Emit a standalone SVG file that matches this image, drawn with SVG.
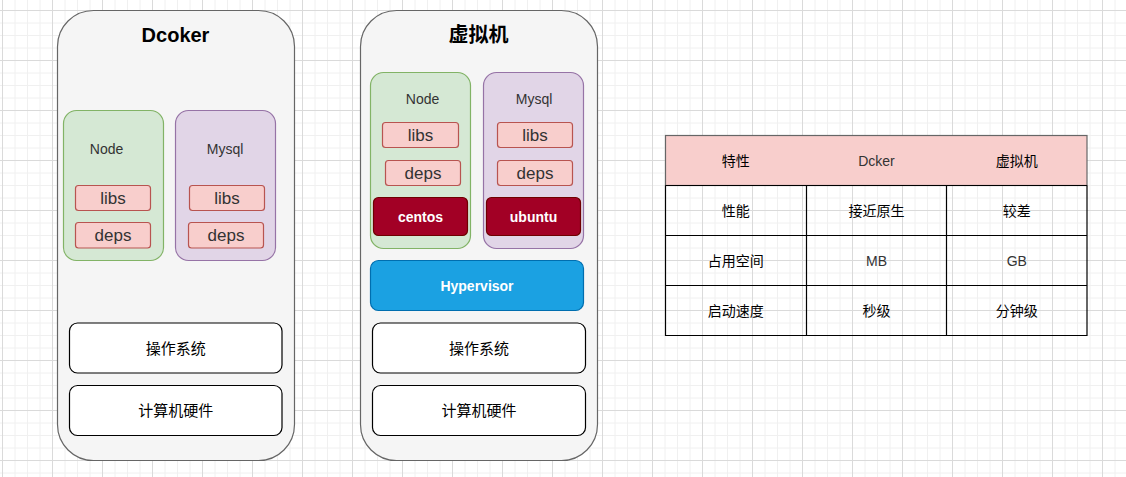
<svg xmlns="http://www.w3.org/2000/svg" width="1126" height="477" viewBox="0 0 1126 477">
<defs>
<pattern id="grid" patternUnits="userSpaceOnUse" x="2" y="10" width="50" height="50">
<path d="M13 0V50M25.5 0V50M38 0V50M0 13H50M0 25.5H50M0 38H50" stroke="#f0f0f0" stroke-width="1" fill="none"/>
<path d="M0.5 0V50M0 0.5H50" stroke="#dadada" stroke-width="1" fill="none"/>
</pattern>
<style>
.cont{fill:#f5f5f5;stroke:#666666;stroke-width:1.2}
.green{fill:#d5e8d4;stroke:#82b366;stroke-width:1.2}
.purple{fill:#e1d5e7;stroke:#9673a6;stroke-width:1.2}
.red{fill:#f8cecc;stroke:#b85450;stroke-width:1.2}
.dark{fill:#a20025;stroke:#6f0000;stroke-width:1.2}
.blue{fill:#1ba1e2;stroke:#006eaf;stroke-width:1.2}
.white{fill:#ffffff;stroke:#000000;stroke-width:1.2}
text{font-family:"Liberation Sans","Noto Sans CJK SC",sans-serif;text-anchor:middle;dominant-baseline:central}
.title{font-size:20px;font-weight:bold;fill:#000}
.lbl{font-size:14px;fill:#333}
.big{font-size:17px;fill:#333}
.wb{font-size:14px;font-weight:bold;fill:#fff}
.cjk{font-size:15px;fill:#000}
.tc{font-size:14px;fill:#000}
.tl{font-size:14px;fill:#333}
</style>
</defs>
<rect x="0" y="0" width="1126" height="477" fill="#ffffff"/>
<rect x="0" y="0" width="1126" height="477" fill="url(#grid)"/>

<g id="docker">
<rect class="cont" x="57.5" y="10.5" width="237" height="450" rx="36" ry="36"/>
<text class="title" x="175.5" y="35">Dcoker</text>
</g>
<g id="docker-node">
<rect class="green" x="63.5" y="110.5" width="100" height="150" rx="13" ry="13"/>
<text class="lbl" x="106.5" y="148.5">Node</text>
</g>
<g id="docker-node-libs">
<rect class="red" x="75.5" y="185.5" width="75" height="25" rx="3" ry="3"/>
<text class="big" x="113" y="198">libs</text>
</g>
<g id="docker-node-deps">
<rect class="red" x="75.5" y="222.5" width="75" height="25.5" rx="3" ry="3"/>
<text class="big" x="113" y="235.5">deps</text>
</g>
<g id="docker-mysql">
<rect class="purple" x="175.5" y="110.5" width="100" height="150" rx="13" ry="13"/>
<text class="lbl" x="225" y="148.5">Mysql</text>
</g>
<g id="docker-mysql-libs">
<rect class="red" x="189.5" y="185.5" width="75" height="25" rx="3" ry="3"/>
<text class="big" x="227" y="198">libs</text>
</g>
<g id="docker-mysql-deps">
<rect class="red" x="188.5" y="222.5" width="75" height="25.5" rx="3" ry="3"/>
<text class="big" x="226" y="235.5">deps</text>
</g>
<g id="docker-os">
<rect class="white" x="69.5" y="323" width="212.5" height="50" rx="8" ry="8"/>
<text class="cjk" x="175.8" y="348">操作系统</text>
</g>
<g id="docker-hw">
<rect class="white" x="69.5" y="385.5" width="212.5" height="50" rx="8" ry="8"/>
<text class="cjk" x="175.8" y="410.5">计算机硬件</text>
</g>

<g id="vm">
<rect class="cont" x="360.5" y="10.5" width="237" height="450" rx="36" ry="36"/>
<text class="title" x="478.5" y="35">虚拟机</text>
</g>
<g id="vm-node">
<rect class="green" x="370.5" y="72.5" width="100" height="176" rx="13" ry="13"/>
<text class="lbl" x="422.5" y="99">Node</text>
</g>
<g id="vm-node-libs">
<rect class="red" x="382.5" y="122.5" width="76" height="25" rx="3" ry="3"/>
<text class="big" x="420.5" y="135">libs</text>
</g>
<g id="vm-node-deps">
<rect class="red" x="385.5" y="160.5" width="75" height="25" rx="3" ry="3"/>
<text class="big" x="423" y="173">deps</text>
</g>
<g id="vm-centos">
<rect class="dark" x="373.5" y="197.5" width="94" height="38" rx="5" ry="5"/>
<text class="wb" x="420.5" y="216.5">centos</text>
</g>
<g id="vm-mysql">
<rect class="purple" x="483.5" y="72.5" width="100" height="176" rx="13" ry="13"/>
<text class="lbl" x="534" y="99">Mysql</text>
</g>
<g id="vm-mysql-libs">
<rect class="red" x="497.5" y="122.5" width="75" height="25" rx="3" ry="3"/>
<text class="big" x="535" y="135">libs</text>
</g>
<g id="vm-mysql-deps">
<rect class="red" x="497.5" y="160.5" width="75" height="25" rx="3" ry="3"/>
<text class="big" x="535" y="173">deps</text>
</g>
<g id="vm-ubuntu">
<rect class="dark" x="486.5" y="197.5" width="94" height="38" rx="5" ry="5"/>
<text class="wb" x="533.5" y="216.5">ubuntu</text>
</g>
<g id="vm-hypervisor">
<rect class="blue" x="370.5" y="260.5" width="213" height="50" rx="8" ry="8"/>
<text class="wb" x="477" y="285.5">Hypervisor</text>
</g>
<g id="vm-os">
<rect class="white" x="372.5" y="323" width="213" height="50" rx="8" ry="8"/>
<text class="cjk" x="479" y="348">操作系统</text>
</g>
<g id="vm-hw">
<rect class="white" x="372.5" y="385.5" width="213" height="50" rx="8" ry="8"/>
<text class="cjk" x="479" y="410.5">计算机硬件</text>
</g>

<g id="table">
<rect x="665.5" y="135.5" width="421.5" height="50" fill="#f8cecc" stroke="#666666" stroke-width="1.2"/>
<path d="M665.5 185.5V335.5H1087V185.5M665.5 235.5H1087M665.5 285.5H1087M806.5 185.5V335.5M946.5 185.5V335.5M665.5 185.5H1087" fill="none" stroke="#000000" stroke-width="1.2"/>
<text class="tc" x="735.8" y="160.5">特性</text>
<text class="tl" x="876.5" y="160.5">Dcker</text>
<text class="tc" x="1016.8" y="160.5">虚拟机</text>
<text class="tc" x="735.8" y="210.5">性能</text>
<text class="tc" x="876.5" y="210.5">接近原生</text>
<text class="tc" x="1016.8" y="210.5">较差</text>
<text class="tc" x="735.8" y="260.5">占用空间</text>
<text class="tl" x="876.5" y="260.5">MB</text>
<text class="tl" x="1016.8" y="260.5">GB</text>
<text class="tc" x="735.8" y="310.5">启动速度</text>
<text class="tc" x="876.5" y="310.5">秒级</text>
<text class="tc" x="1016.8" y="310.5">分钟级</text>
</g>
</svg>
